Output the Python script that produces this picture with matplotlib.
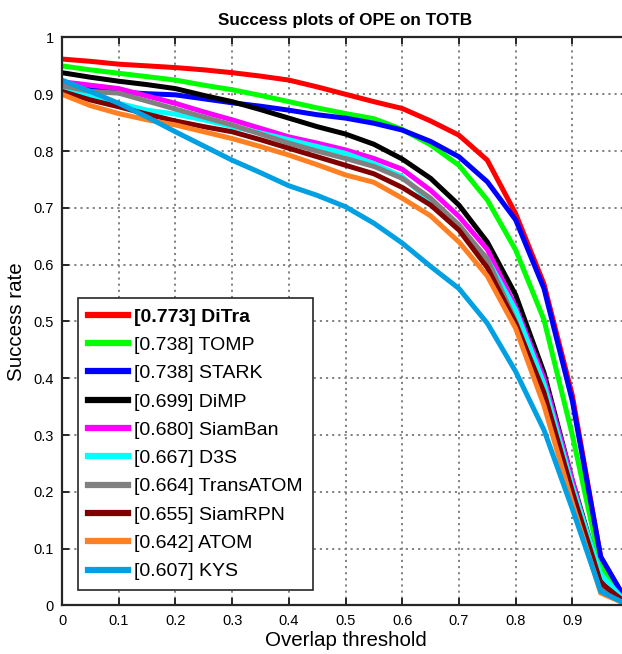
import numpy as np
import matplotlib
matplotlib.use("Agg")
import matplotlib.pyplot as plt

plt.rcParams["font.family"] = ["Liberation Sans", "DejaVu Sans"]

# overlap thresholds 0:0.05:1
thresholds = np.round(np.arange(0, 1.0001, 0.05), 2)

names  = ["DiTra", "TOMP", "STARK", "DiMP", "SiamBan", "D3S",
          "TransATOM", "SiamRPN", "ATOM", "KYS"]
scores = [0.773, 0.738, 0.738, 0.699, 0.680, 0.667, 0.664, 0.655, 0.642, 0.607]
colors = ["#FF0000", "#00FF00", "#0000FF", "#000000", "#FF00FF", "#00FFFF",
          "#808080", "#800000", "#FF8022", "#00A0E2"]

ditra     = [0.962, 0.958, 0.953, 0.950, 0.947, 0.943, 0.938, 0.932, 0.925, 0.913, 0.900,
             0.887, 0.875, 0.853, 0.828, 0.784, 0.690, 0.566, 0.370, 0.085, 0.0]
tomp      = [0.950, 0.943, 0.937, 0.931, 0.925, 0.916, 0.908, 0.898, 0.887, 0.876, 0.866,
             0.857, 0.838, 0.811, 0.775, 0.714, 0.626, 0.503, 0.300, 0.070, 0.0]
stark     = [0.913, 0.908, 0.904, 0.901, 0.899, 0.892, 0.885, 0.879, 0.872, 0.864, 0.858,
             0.849, 0.837, 0.817, 0.790, 0.746, 0.679, 0.558, 0.360, 0.086, 0.0]
dimp      = [0.938, 0.930, 0.923, 0.917, 0.910, 0.898, 0.887, 0.873, 0.858, 0.843, 0.830,
             0.812, 0.786, 0.752, 0.705, 0.640, 0.547, 0.410, 0.220, 0.050, 0.0]
siamban   = [0.922, 0.916, 0.910, 0.897, 0.884, 0.869, 0.855, 0.840, 0.825, 0.814, 0.802,
             0.787, 0.768, 0.731, 0.685, 0.627, 0.526, 0.400, 0.220, 0.040, 0.0]
d3s       = [0.910, 0.898, 0.884, 0.872, 0.865, 0.855, 0.843, 0.832, 0.820, 0.808, 0.796,
             0.778, 0.755, 0.711, 0.663, 0.610, 0.520, 0.390, 0.210, 0.055, 0.0]
transatom = [0.915, 0.905, 0.902, 0.888, 0.874, 0.860, 0.846, 0.830, 0.814, 0.800, 0.787,
             0.773, 0.752, 0.717, 0.670, 0.610, 0.500, 0.370, 0.200, 0.035, 0.0]
siamrpn   = [0.905, 0.890, 0.878, 0.865, 0.853, 0.843, 0.834, 0.820, 0.805, 0.790, 0.775,
             0.760, 0.736, 0.705, 0.661, 0.595, 0.497, 0.375, 0.200, 0.040, 0.0]
atom      = [0.900, 0.880, 0.866, 0.855, 0.846, 0.834, 0.822, 0.808, 0.793, 0.776, 0.758,
             0.745, 0.717, 0.686, 0.640, 0.580, 0.488, 0.352, 0.180, 0.022, 0.0]
kys       = [0.925, 0.905, 0.884, 0.860, 0.834, 0.809, 0.784, 0.762, 0.739, 0.722, 0.702,
             0.673, 0.638, 0.597, 0.558, 0.497, 0.412, 0.309, 0.170, 0.025, 0.0]

curves = [ditra, tomp, stark, dimp, siamban, d3s, transatom, siamrpn, atom, kys]

# x tick labels: the "1" at the far right falls outside the picture
xtick_labels = ["0", "0.1", "0.2", "0.3", "0.4", "0.5", "0.6", "0.7", "0.8", "0.9", ""]
ytick_labels = ["0", "0.1", "0.2", "0.3", "0.4", "0.5", "0.6", "0.7", "0.8", "0.9", "1"]

fig = plt.figure(figsize=(6.22, 6.54), dpi=100, facecolor="white")
ax = fig.add_axes([0.0997, 0.0742, 0.9116, 0.8685])

for name, sc, col, ys in zip(names, scores, colors, curves):
    ax.plot(thresholds, ys, color=col, linewidth=3.6,
            label=f"[{sc:.3f}] {name}", solid_joinstyle="miter")

ax.set_xlim(0, 1)
ax.set_ylim(0, 1)
ax.set_xticks(np.arange(0, 1.01, 0.1))
ax.set_yticks(np.arange(0, 1.01, 0.1))
ax.set_xticklabels(xtick_labels)
ax.set_yticklabels(ytick_labels)

ax.grid(True, color="#7a7a7a", linestyle=(0, (1.2, 2.2)), linewidth=1.3)
ax.set_axisbelow(True)
for sp in ax.spines.values():
    sp.set_color("#262626")
    sp.set_linewidth(1.6)
ax.tick_params(direction="in", top=True, right=True, length=5, width=1.4,
               labelsize=10.5, colors="#262626", labelcolor="black", pad=6)

ax.set_title("Success plots of OPE on TOTB", fontsize=12.3, fontweight="bold", pad=9)
ax.set_xlabel("Overlap threshold", fontsize=14.8, labelpad=2)
ax.set_ylabel("Success rate", fontsize=14.8, labelpad=5)

leg = ax.legend(loc="lower left", bbox_to_anchor=(0.028, 0.027), borderaxespad=0,
                fontsize=14, handlelength=2.1, handletextpad=0.3,
                labelspacing=0.55, borderpad=0.5, fancybox=False, framealpha=1)
leg.get_frame().set_edgecolor("#262626")
leg.get_frame().set_linewidth(1.2)
for line in leg.get_lines():
    line.set_linewidth(4.5)
leg.get_texts()[0].set_fontweight("bold")

fig.savefig("out.png", dpi=100)
